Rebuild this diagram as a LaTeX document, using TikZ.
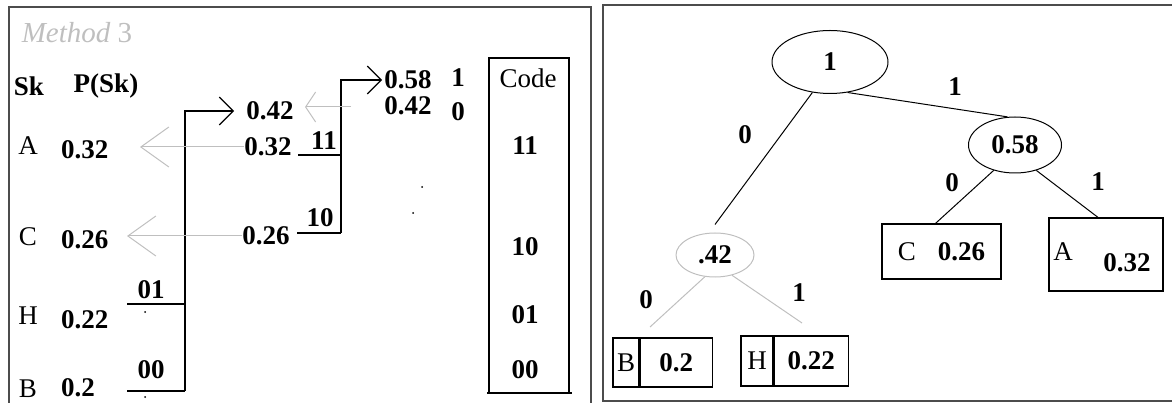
\documentclass[tikz,border=0pt]{standalone}
\usepackage{fontspec}
\setmainfont{Liberation Serif}
\usetikzlibrary{arrows.meta,shapes.geometric}

\begin{document}
\begin{tikzpicture}[x=1pt,y=-1pt,
    every node/.style={font=\fontsize{27}{30}\selectfont, inner sep=0pt},
    num/.style={font=\fontsize{27}{30}\selectfont\bfseries},
    faint/.style={color=black!25},
    barb/.style={faint, line width=1pt, -{Straight Barb[length=28pt,width=40pt]}},
    hook/.style={line width=1.3pt, -{Straight Barb[length=14pt,width=28pt]}},
    oval/.style={draw, ellipse, line width=1pt},
    leaf/.style={draw, rectangle, line width=1.2pt},
    edge/.style={line width=1pt}]
    \useasboundingbox (0,0) rectangle (1172,403);

    % the two panels
    \draw[line width=1.5pt, black!70] (9,410) -- (9,7) -- (591,7) -- (591,410);
    \draw[line width=1.5pt, black!70] (1180,5) -- (603,5) -- (603,401) -- (1180,401);

    % left panel: reduction table
    \node[faint, font=\fontsize{29}{30}\selectfont\itshape] (title) at (77,33) {Method \upshape 3};
    \node[num] (sk) at (29,86) {Sk};
    \node[num] (psk) at (106,86) {P(Sk)};
    \foreach \s/\p/\ys/\yp in {A/0.32/146/150, C/0.26/237/240, H/0.22/316/320, B/0.2/389/388}
    {
        \node (s\s) at (28,\ys) {\s};
        \node[num, anchor=west] (p\s) at (61,\yp) {\p};
    }

    \node[num] (m42) at (270,111) {0.42};
    \node[num] (m32) at (268,147) {0.32};
    \node[num] (m26) at (266,236) {0.26};
    \node[num] (t58) at (408,80) {0.58};
    \node[num] (t42) at (408,106) {0.42};
    \node[num] (b1) at (458,78) {1};
    \node[num] (b0) at (458,112) {0};

    \node[num] (c01) at (151,290) {01};
    \node[num] (c00) at (151,370) {00};
    \node[num] (c11) at (324,141) {11};
    \node[num] (c10) at (320,218) {10};

    \coordinate (u01) at (127,304); \coordinate (j01) at (185,304);
    \coordinate (u00) at (127,391); \coordinate (j00) at (185,391);
    \coordinate (u11) at (298,155); \coordinate (j11) at (341,155);
    \coordinate (u10) at (297,233); \coordinate (j10) at (341,233);
    \coordinate (tipA) at (140,147);
    \coordinate (tipC) at (127,236);
    \coordinate (from42) at (351,107);
    \coordinate (tip42) at (305,107);

    % merging the two smallest
    \draw[line width=1.3pt] (u01) -- (j01);
    \draw[line width=1.3pt] (u00) -- (j00);
    \draw[hook, shorten >=12pt] (j00) |- (m42.west);
    \draw[line width=1.3pt] (u11) -- (j11);
    \draw[line width=1.3pt] (u10) -- (j10);
    \draw[hook, shorten >=2pt] (j10) |- (t58.west);

    % carried over unchanged
    \draw[barb] (m32.west) -- (tipA);
    \draw[barb] (m26.west) -- (tipC);
    \draw[faint, line width=1pt, -{Straight Barb[length=10pt,width=30pt]}] (from42) -- (tip42);

    \foreach \p in {(145,312),(145,397),(422,187),(413,213)}
        \fill \p circle (1pt);

    % code column
    \draw[line width=1.2pt] (489,393) -- (489,58) -- (569,58) -- (569,393);
    \draw[line width=1.5pt] (487,393) -- (572,393);
    \node (code) at (528,78) {Code};
    \foreach \c/\y in {11/146, 10/247, 01/315, 00/370}
        \node[num] (k\c) at (525,\y) {\c};

    % right panel: code tree
    \node[oval, num, minimum width=116pt, minimum height=63pt] (root) at (830,62) {1};
    \node[oval, num, minimum width=93pt, minimum height=56pt] (n58) at (1015,145) {0.58};
    \node[oval, num, draw=black!25, minimum width=78pt, minimum height=44pt] (n42) at (715,255) {.42};

    \node[leaf, minimum width=119pt, minimum height=55pt] (lC) at (941.5,251.5) {C\hspace{22pt}\textbf{0.26}};
    \node[leaf, minimum width=114pt, minimum height=73pt] (lA) at (1106,254.5) {};
    \node (lAs) at (1063,252) {A};
    \node[num] (lAp) at (1127,263) {0.32};
    \node[leaf, minimum width=26pt, minimum height=49pt] (lBs) at (626,362.5) {B};
    \node[leaf, num, minimum width=72pt, minimum height=49pt, anchor=west] (lBp) at (lBs.east) {0.2};
    \node[leaf, minimum width=32pt, minimum height=50pt] (lHs) at (757,361) {H};
    \node[leaf, num, minimum width=74pt, minimum height=50pt, anchor=west] (lHp) at (lHs.east) {0.22};

    \coordinate (eB) at (650,327);
    \coordinate (eH) at (802,323);

    \draw[edge] (root.240) -- ([yshift=8pt]n42.north);
    \draw[edge] (root.300) -- (n58.105);
    \draw[edge] (n58.230) -- ([xshift=-6pt]lC.north);
    \draw[edge] (n58.310) -- ([xshift=-8pt]lA.north);
    \draw[edge, faint] (n42.245) -- (eB);
    \draw[edge, faint] (n42.-50) -- (eH);

    \node[num] (r0) at (745,135) {0};
    \node[num] (r1) at (955,87) {1};
    \node[num] (q0) at (952,183) {0};
    \node[num] (q1) at (1098,182) {1};
    \node[num] (p0) at (646,300) {0};
    \node[num] (p1) at (799,293) {1};
\end{tikzpicture}
\end{document}
